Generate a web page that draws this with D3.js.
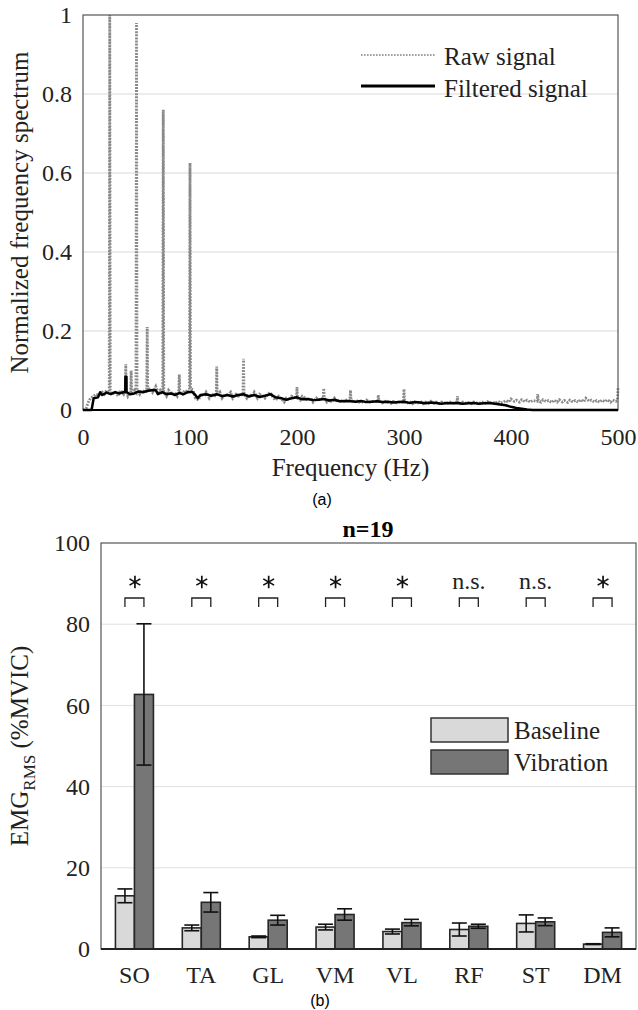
<!DOCTYPE html>
<html>
<head>
<meta charset="utf-8">
<script src="https://cdn.jsdelivr.net/npm/d3@7"></script>
<style>
  body { margin: 0; background: #fff; }
  svg { display: block; }
  text { font-family: "Liberation Serif", "Times New Roman", serif; fill: #222; }
</style>
</head>
<body>
<div id="chart"></div>
<script>
// ---- (a) spectrum, [frequency Hz, normalized amplitude]
const rawSignal = [
  [0,0],[3,0.005],[5,0.02],[7,0.03],[10,0.035],[12,0.04],[15,0.038],[18,0.045],[20,0.04],[22,0.05],
  [24.5,0.045],[25,1.0],[25.5,0.05],[27,0.04],[30,0.045],[33,0.035],[35,0.05],[38,0.04],
  [39.5,0.05],[40,0.116],[40.5,0.05],[42,0.035],[44.5,0.045],[45,0.10],[45.5,0.04],[48,0.05],
  [49.5,0.045],[50,0.98],[50.5,0.05],[53,0.04],[55,0.05],[58,0.045],[59.5,0.05],[60,0.21],[60.5,0.05],
  [63,0.055],[65,0.045],[68,0.06],[70,0.045],[72,0.05],[74.5,0.04],[75,0.76],[75.5,0.045],[78,0.035],
  [80,0.05],[83,0.04],[85,0.045],[88,0.035],[89.5,0.05],[90,0.09],[90.5,0.045],[93,0.04],[95,0.05],
  [98,0.045],[99.5,0.05],[100,0.625],[100.5,0.055],[103,0.05],[105,0.03],[108,0.025],[110,0.04],
  [113,0.035],[115,0.045],[118,0.03],[120,0.04],[124.5,0.035],[125,0.11],[125.5,0.035],[128,0.045],
  [130,0.03],[133,0.04],[135,0.035],[138,0.045],[140,0.03],[143,0.04],[145,0.035],[149.5,0.04],
  [150,0.13],[150.5,0.04],[153,0.03],[155,0.04],[158,0.035],[160,0.045],[163,0.03],[165,0.04],
  [168,0.035],[170,0.03],[173,0.04],[175,0.045],[178,0.03],[180,0.025],[183,0.035],[185,0.03],
  [188,0.02],[190,0.03],[193,0.025],[195,0.035],[199.5,0.03],[200,0.058],[200.5,0.03],[203,0.025],
  [205,0.035],[208,0.03],[210,0.025],[213,0.03],[215,0.02],[218,0.03],[220,0.025],[224.5,0.03],
  [225,0.055],[225.5,0.03],[228,0.02],[230,0.025],[233,0.02],[235,0.03],[238,0.02],[240,0.025],
  [243,0.02],[245,0.025],[249.5,0.025],[250,0.05],[250.5,0.025],[253,0.02],[255,0.025],[258,0.02],
  [260,0.022],[263,0.018],[265,0.025],[268,0.02],[270,0.022],[275.5,0.022],[276,0.038],[276.5,0.022],
  [280,0.018],[283,0.022],[285,0.02],[288,0.017],[290,0.022],[293,0.018],[295,0.02],[299.5,0.02],
  [300,0.053],[300.5,0.02],[303,0.018],[305,0.022],[308,0.016],[310,0.02],[313,0.018],[315,0.022],
  [318,0.016],[320,0.02],[323,0.017],[325,0.022],[328,0.017],[330,0.02],[333,0.016],[335,0.02],
  [338,0.018],[340,0.016],[343,0.02],[345,0.017],[349.5,0.02],[350,0.035],[350.5,0.018],[353,0.016],
  [355,0.02],[358,0.017],[360,0.019],[363,0.016],[365,0.02],[368,0.018],[370,0.017],[373,0.02],
  [375,0.016],[378,0.021],[380,0.018],[383,0.02],[385,0.017],[388,0.022],[390,0.018],[393,0.02],
  [395,0.024],[398,0.02],[400,0.028],[403,0.022],[405,0.025],[408,0.02],[410,0.026],[413,0.021],
  [415,0.025],[418,0.02],[420,0.024],[424.5,0.022],[425,0.04],[425.5,0.024],[428,0.02],[430,0.026],
  [433,0.021],[435,0.024],[438,0.019],[440,0.025],[443,0.02],[445,0.026],[448,0.02],[450,0.024],
  [453,0.019],[455,0.025],[458,0.02],[460,0.024],[463,0.02],[465,0.026],[468,0.021],[470,0.03],
  [473,0.022],[475,0.025],[478,0.02],[480,0.024],[483,0.02],[485,0.025],[488,0.021],[490,0.026],
  [493,0.02],[495,0.025],[498,0.022],[499.5,0.025],[500,0.055]
];
const filteredSignal = [
  [0,0],[8,0],[10,0.03],[14,0.032],[16,0.045],[18,0.038],[22,0.044],[26,0.04],[30,0.045],[34,0.042],
  [38,0.045],[39.5,0.045],[39.6,0.084],[40.6,0.084],[40.7,0.045],[44,0.04],[48,0.042],[52,0.047],
  [56,0.045],[60,0.048],[64,0.05],[68,0.05],[70,0.04],[74,0.045],[78,0.04],[82,0.042],[86,0.038],
  [90,0.043],[94,0.04],[98,0.045],[102,0.046],[105,0.038],[107,0.03],[110,0.038],[115,0.04],
  [120,0.036],[125,0.04],[130,0.035],[135,0.038],[140,0.034],[145,0.038],[150,0.04],[155,0.034],
  [160,0.038],[165,0.033],[170,0.036],[175,0.04],[180,0.032],[185,0.03],[190,0.026],[195,0.03],
  [200,0.032],[205,0.027],[210,0.028],[215,0.025],[220,0.026],[225,0.028],[230,0.024],[235,0.026],
  [240,0.022],[245,0.023],[250,0.022],[255,0.021],[260,0.023],[265,0.02],[270,0.021],[275,0.022],
  [280,0.02],[285,0.021],[290,0.019],[295,0.02],[300,0.021],[305,0.018],[310,0.02],[315,0.019],
  [320,0.017],[325,0.019],[330,0.018],[335,0.016],[340,0.018],[345,0.017],[350,0.018],[355,0.016],
  [360,0.017],[365,0.018],[370,0.016],[375,0.017],[380,0.018],[385,0.016],[390,0.014],[395,0.012],
  [400,0.008],[405,0.005],[410,0.003],[415,0.001],[420,0],[500,0]
];
const freqTicks = [0, 100, 200, 300, 400, 500];
const ampTicks = [0, 0.2, 0.4, 0.6, 0.8, 1];

// ---- (b) EMG RMS, mean and error per muscle
const muscles = ["SO", "TA", "GL", "VM", "VL", "RF", "ST", "DM"];
const conditions = ["Baseline", "Vibration"];
const baselineMean = [13.1, 5.2, 3.0, 5.4, 4.3, 4.8, 6.3, 1.2];
const baselineErr = [1.7, 0.7, 0.2, 0.7, 0.6, 1.6, 2.1, 0.1];
const vibrationMean = [62.7, 11.5, 7.1, 8.5, 6.5, 5.6, 6.7, 4.1];
const vibrationErr = [17.4, 2.4, 1.2, 1.4, 0.8, 0.5, 0.95, 1.1];
const significance = ["*", "*", "*", "*", "*", "n.s.", "n.s.", "*"];
const emgTicks = [0, 20, 40, 60, 80, 100];

const serif = "'Liberation Serif', 'Times New Roman', serif";
const rawColor = "#8a8a8a";

const svg = d3.select("#chart").append("svg")
    .attr("width", 638)
    .attr("height", 1010);

function drawSpectrum() {
    const left = 83, right = 618, top = 15, bottom = 410;
    const x = d3.scaleLinear().domain([0, 500]).range([left, right]);
    const y = d3.scaleLinear().domain([0, 1]).range([bottom, top]);
    const g = svg.append("g");

    g.selectAll(".grid")
        .data(ampTicks.filter(d => d > 0 && d < 1))
        .enter().append("line")
        .attr("x1", left).attr("x2", right)
        .attr("y1", d => y(d)).attr("y2", d => y(d))
        .style("stroke", "#d9d9d9")
        .style("stroke-width", 1);

    const line = d3.line()
        .x(d => x(d[0]))
        .y(d => y(d[1]));

    g.append("path")
        .datum(rawSignal)
        .attr("d", line)
        .style("fill", "none")
        .style("stroke", rawColor)
        .style("stroke-width", 2.8)
        .style("stroke-dasharray", "1.8,1.3");

    g.append("path")
        .datum(filteredSignal)
        .attr("d", line)
        .style("fill", "none")
        .style("stroke", "#000")
        .style("stroke-width", 2.5)
        .style("stroke-linejoin", "round");

    g.append("rect")
        .attr("x", left).attr("y", top)
        .attr("width", right - left).attr("height", bottom - top)
        .style("fill", "none")
        .style("stroke", "#555")
        .style("stroke-width", 1.2);
    g.append("line")
        .attr("x1", left).attr("x2", right)
        .attr("y1", bottom).attr("y2", bottom)
        .style("stroke", "#000")
        .style("stroke-width", 2);

    const xAxis = g.append("g")
        .attr("transform", `translate(0,${bottom})`)
        .call(d3.axisBottom(x).tickValues(freqTicks).tickSize(0).tickPadding(18));
    const yAxis = g.append("g")
        .attr("transform", `translate(${left},0)`)
        .call(d3.axisLeft(y).tickValues(ampTicks).tickFormat(d3.format("~g")).tickSize(0).tickPadding(11));
    [xAxis, yAxis].forEach(a => {
        a.attr("font-family", serif);
        a.select(".domain").remove();
        a.selectAll("text")
            .style("font-family", serif)
            .style("font-size", "24px")
            .style("fill", "#222");
    });

    g.append("text")
        .attr("transform", `translate(28,${(top + bottom) / 2}) rotate(-90)`)
        .attr("text-anchor", "middle")
        .style("font-size", "25px")
        .text("Normalized frequency spectrum");
    g.append("text")
        .attr("x", (left + right) / 2).attr("y", 476)
        .attr("text-anchor", "middle")
        .style("font-size", "25px")
        .text("Frequency (Hz)");
    g.append("text")
        .attr("x", 322).attr("y", 505)
        .attr("text-anchor", "middle")
        .style("font-family", "'Liberation Sans', Arial, sans-serif")
        .style("font-size", "16px")
        .style("fill", "#000")
        .text("(a)");

    // legend
    const legend = g.append("g");
    legend.append("line")
        .attr("x1", 361).attr("x2", 435).attr("y1", 55).attr("y2", 55)
        .style("stroke", "#a0a0a0").style("stroke-width", 2)
        .style("stroke-dasharray", "1.6,1.4");
    legend.append("line")
        .attr("x1", 361).attr("x2", 435).attr("y1", 86).attr("y2", 86)
        .style("stroke", "#000").style("stroke-width", 2.8);
    legend.append("text").attr("x", 444).attr("y", 65)
        .style("font-size", "25px").text("Raw signal");
    legend.append("text").attr("x", 444).attr("y", 97)
        .style("font-size", "25px").text("Filtered signal");
}

function drawBars() {
    const left = 101, right = 636, top = 543, bottom = 949;
    const x = d3.scaleBand().domain(muscles).range([left, right]);
    const sub = d3.scaleBand().domain(conditions).range([-19, 19]);
    const y = d3.scaleLinear().domain([0, 100]).range([bottom, top]);
    const fills = { Baseline: "#d9d9d9", Vibration: "#767676" };
    const g = svg.append("g");

    const rows = muscles.map((m, i) => ({
        muscle: m,
        sig: significance[i],
        values: [
            { cond: "Baseline", mean: baselineMean[i], err: baselineErr[i] },
            { cond: "Vibration", mean: vibrationMean[i], err: vibrationErr[i] }
        ]
    }));

    g.selectAll(".grid")
        .data(emgTicks.filter(d => d > 0 && d < 100))
        .enter().append("line")
        .attr("x1", left).attr("x2", right)
        .attr("y1", d => y(d)).attr("y2", d => y(d))
        .style("stroke", "#e0e0e0")
        .style("stroke-width", 1);

    const groups = g.selectAll(".group")
        .data(rows)
        .enter().append("g")
        .attr("transform", d => `translate(${x(d.muscle) + x.bandwidth() / 2},0)`);

    groups.selectAll("rect")
        .data(d => d.values)
        .enter().append("rect")
        .attr("x", d => sub(d.cond))
        .attr("width", sub.bandwidth())
        .attr("y", d => y(d.mean))
        .attr("height", d => bottom - y(d.mean))
        .style("fill", d => fills[d.cond])
        .style("stroke", "#262626")
        .style("stroke-width", 1.6);

    const errs = groups.selectAll(".err")
        .data(d => d.values)
        .enter().append("g")
        .attr("transform", d => `translate(${sub(d.cond) + sub.bandwidth() / 2},0)`)
        .style("stroke", "#111")
        .style("stroke-width", 1.6);
    errs.append("line")
        .attr("y1", d => y(d.mean - d.err)).attr("y2", d => y(d.mean + d.err));
    errs.append("line")
        .attr("x1", -7.5).attr("x2", 7.5)
        .attr("y1", d => y(d.mean + d.err)).attr("y2", d => y(d.mean + d.err));
    errs.append("line")
        .attr("x1", -7.5).attr("x2", 7.5)
        .attr("y1", d => y(d.mean - d.err)).attr("y2", d => y(d.mean - d.err));

    // significance brackets
    groups.append("path")
        .attr("d", "M-9.5,607V598H9.5V607")
        .style("fill", "none")
        .style("stroke", "#222")
        .style("stroke-width", 1.3);
    groups.filter(d => d.sig === "*").append("path")
        .attr("transform", "translate(0.5,582)")
        .attr("d", d3.symbol(d3.symbolAsterisk, 110))
        .style("fill", "none")
        .style("stroke", "#111")
        .style("stroke-width", 1.7);
    groups.filter(d => d.sig !== "*").append("text")
        .attr("y", 589)
        .attr("text-anchor", "middle")
        .style("font-size", "24px")
        .text(d => d.sig);

    g.append("rect")
        .attr("x", left).attr("y", top)
        .attr("width", right - left).attr("height", bottom - top)
        .style("fill", "none")
        .style("stroke", "#555")
        .style("stroke-width", 1.2);
    g.append("line")
        .attr("x1", left).attr("x2", right)
        .attr("y1", bottom).attr("y2", bottom)
        .style("stroke", "#222")
        .style("stroke-width", 2);

    const xAxis = g.append("g")
        .attr("transform", `translate(0,${bottom})`)
        .call(d3.axisBottom(x).tickSize(0).tickPadding(17));
    const yAxis = g.append("g")
        .attr("transform", `translate(${left},0)`)
        .call(d3.axisLeft(y).tickValues(emgTicks).tickSize(0).tickPadding(11));
    [xAxis, yAxis].forEach(a => {
        a.attr("font-family", serif);
        a.select(".domain").remove();
        a.selectAll("text")
            .style("font-family", serif)
            .style("font-size", "24px")
            .style("fill", "#222");
    });

    g.append("text")
        .attr("x", 368).attr("y", 537)
        .attr("text-anchor", "middle")
        .style("font-size", "24px")
        .style("font-weight", "bold")
        .style("fill", "#000")
        .text("n=19");

    const yLabel = g.append("text")
        .attr("transform", `translate(28,${(top + bottom) / 2}) rotate(-90)`)
        .attr("text-anchor", "middle")
        .style("font-size", "25px");
    yLabel.append("tspan").text("EMG");
    yLabel.append("tspan").attr("dy", 7).style("font-size", "17px").text("RMS");
    yLabel.append("tspan").attr("dy", -7).text(" (%MVIC)");

    g.append("text")
        .attr("x", 320).attr("y", 1006)
        .attr("text-anchor", "middle")
        .style("font-family", "'Liberation Sans', Arial, sans-serif")
        .style("font-size", "16px")
        .style("fill", "#000")
        .text("(b)");

    // legend
    const legend = g.selectAll(".legend")
        .data(conditions)
        .enter().append("g")
        .attr("transform", (d, i) => `translate(431,${718 + i * 32})`);
    legend.append("rect")
        .attr("width", 77).attr("height", 24)
        .style("fill", d => fills[d])
        .style("stroke", "#333")
        .style("stroke-width", 1.5);
    legend.append("text")
        .attr("x", 83).attr("y", 21)
        .style("font-size", "25px")
        .text(d => d);
}

drawSpectrum();
drawBars();
</script>
</body>
</html>
